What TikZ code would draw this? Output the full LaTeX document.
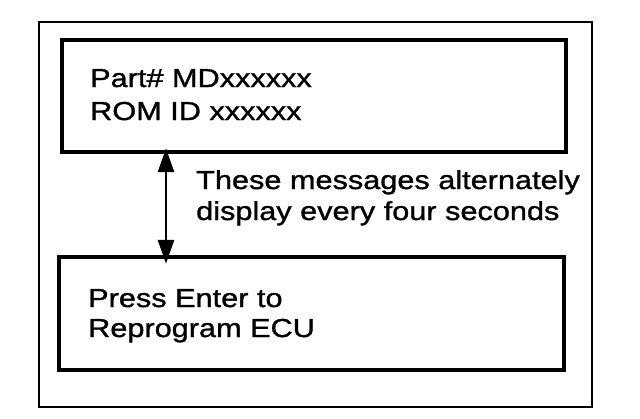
\documentclass[tikz,border=0pt]{standalone}
\usepackage{fontspec}
\setmainfont{Liberation Sans}[FakeStretch=1.18,FakeBold=1.2]
\usetikzlibrary{arrows.meta}
\begin{document}
\begin{tikzpicture}[x=1bp,y=-1bp,
  frame/.style={draw=black,line width=2.6bp},
  panel/.style={draw=black,line width=4.8bp},
  lbl/.style={anchor=base west,inner sep=0pt,font=\fontsize{26bp}{30bp}\selectfont},
  dbl/.style={line width=2.6bp,{Triangle[length=24bp,width=16bp]}-{Triangle[length=24bp,width=16bp]}}]
\useasboundingbox (0,0) rectangle (640,418);
\draw[frame] (39,22) rectangle (592,407);
\draw[panel] (62,40) rectangle (566,152);
\node[minimum width=504bp,minimum height=112bp,inner sep=0pt] (top) at (314,96) {};
\draw[panel] (59,257) rectangle (564,370);
\node[minimum width=505bp,minimum height=113bp,inner sep=0pt] (bot) at (311.5,313.5) {};
\node[lbl] (l1) at (90,87) {Part\# MDxxxxxx};
\node[lbl] (l2) at (90,120) {ROM ID xxxxxx};
\node[lbl] (m1) at (196,189) {These messages alternately};
\node[lbl] (m2) at (196,220) {display every four seconds};
\node[lbl] (b1) at (88,307) {Press Enter to};
\node[lbl] (b2) at (88,337) {Reprogram ECU};
\coordinate (ax) at (166,0);
\draw[dbl] ([yshift=4bp]top.south -| ax) -- ([yshift=-7bp]bot.north -| ax);
\end{tikzpicture}
\end{document}
